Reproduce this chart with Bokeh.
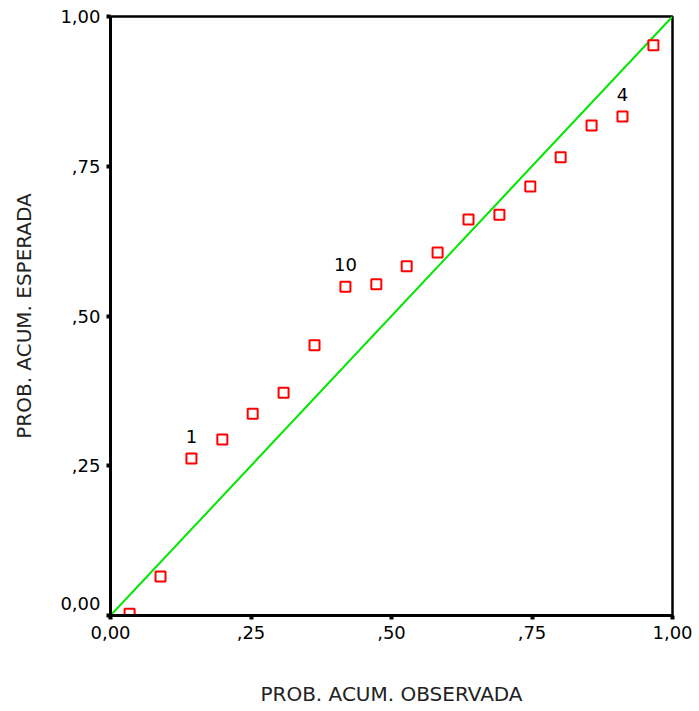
from bokeh.plotting import figure
from bokeh.models import ColumnDataSource, FixedTicker, Range1d
from bokeh.core.properties import value
from bokeh.embed import file_html
from bokeh.resources import INLINE

# Observed cumulative probability (Blom positions, n = 18)
observed = [0.034, 0.089, 0.144, 0.199, 0.253, 0.308, 0.363, 0.418, 0.473,
            0.527, 0.582, 0.637, 0.692, 0.747, 0.801, 0.856, 0.911, 0.966]
# Expected cumulative probability
expected = [0.003, 0.065, 0.262, 0.294, 0.337, 0.372, 0.451, 0.549, 0.553,
            0.583, 0.606, 0.661, 0.669, 0.716, 0.765, 0.818, 0.833, 0.952]
# Case labels shown next to some points
label_points = [2, 7, 16]
label_texts = ["1", "10", "4"]

ticks = [0.0, 0.25, 0.5, 0.75, 1.0]
tick_labels = {0.0: "0,00", 0.25: ",25", 0.5: ",50", 0.75: ",75", 1.0: "1,00"}
# on the y axis the "0,00" label is drawn slightly above its tick
y_label_ticks = [0.02, 0.25, 0.5, 0.75, 1.0]
y_tick_labels = {0.02: "0,00", 0.25: ",25", 0.5: ",50", 0.75: ",75", 1.0: "1,00"}
x_title = "PROB. ACUM. OBSERVADA"
y_title = "PROB. ACUM. ESPERADA"

FONT = "DejaVu Sans"

p = figure(width=699, height=711, output_backend="svg", toolbar_location=None,
           x_range=Range1d(0, 1), y_range=Range1d(0, 1),
           min_border_left=110, min_border_right=27, min_border_top=16,
           min_border_bottom=96)
p.xgrid.visible = False
p.ygrid.visible = False
p.background_fill_color = "white"
p.border_fill_color = "white"
p.outline_line_color = "black"
p.outline_line_width = 2.5

for ax in (p.xaxis[0], p.yaxis[0]):
    ax.axis_line_color = "black"
    ax.axis_line_width = 3
    ax.major_label_text_font = FONT
    ax.major_label_text_font_size = "18px"
    ax.major_label_text_color = "black"
    ax.axis_label_text_font = FONT
    ax.axis_label_text_font_size = "20px"
    ax.axis_label_text_font_style = "normal"
    ax.axis_label_text_color = "#222222"

xa = p.xaxis[0]
xa.ticker = FixedTicker(ticks=ticks)
xa.major_label_overrides = dict(tick_labels)
xa.major_tick_in = 0
xa.major_tick_out = 4
xa.major_tick_line_width = 4
xa.major_tick_line_color = "black"
xa.minor_tick_line_color = None

ya = p.yaxis[0]
ya.ticker = FixedTicker(ticks=y_label_ticks, minor_ticks=ticks)
ya.major_label_overrides = dict(y_tick_labels)
ya.major_tick_line_color = None
ya.major_tick_in = 0
ya.major_tick_out = 4
ya.minor_tick_in = 0
ya.minor_tick_out = 4
ya.minor_tick_line_width = 4
ya.minor_tick_line_color = "black"
ya.major_label_orientation = "horizontal"

p.xaxis.axis_label = x_title
p.yaxis.axis_label = y_title
p.xaxis.major_label_standoff = 6
p.xaxis.axis_label_standoff = 40
p.yaxis.major_label_standoff = 6
p.yaxis.axis_label_standoff = 21

# reference diagonal
p.line([0, 1], [0, 1], line_color="#00e600", line_width=2)

src = ColumnDataSource(dict(x=observed, y=expected))
p.scatter("x", "y", source=src, marker="square", size=10, fill_color="white",
          line_color="#ff0000", line_width=2)

lsrc = ColumnDataSource(dict(x=[observed[i] for i in label_points],
                             y=[expected[i] for i in label_points],
                             t=label_texts))
p.text("x", "y", text="t", source=lsrc, text_font=value(FONT), text_font_size="18px",
       text_align="center", text_baseline="middle", y_offset=-22, text_color="black")

open("out.html", "w").write(file_html(p, INLINE))
